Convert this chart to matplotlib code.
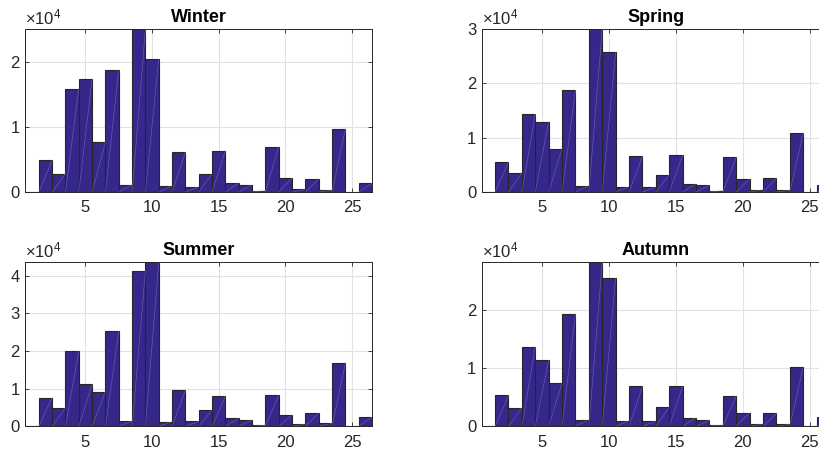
import matplotlib
matplotlib.use('Agg')
import matplotlib.pyplot as plt
import numpy as np
from matplotlib.ticker import FuncFormatter

plt.rcParams['font.family'] = ['Liberation Sans', 'DejaVu Sans']
plt.rcParams['mathtext.fontset'] = 'custom'
plt.rcParams['mathtext.rm'] = 'Liberation Sans'
plt.rcParams['mathtext.it'] = 'Liberation Sans'

# bin index 1..26
bins = np.arange(1, 27)

winter = [0, 4850, 2810, 15870, 17350, 7650, 18780, 1120, 25000, 20460,
          970, 6070, 800, 2810, 6330, 1380, 1120, 200, 6940, 2140,
          410, 1990, 260, 9690, 0, 1330]
spring = [0, 5520, 3500, 14290, 12940, 7980, 18710, 1170, 30000, 25770,
          980, 6560, 920, 3190, 6750, 1530, 1290, 250, 6380, 2390,
          430, 2520, 310, 10800, 0, 1290]
summer = [0, 7610, 4960, 20000, 11150, 9200, 25220, 1420, 41240, 43540,
          1240, 9560, 1300, 4340, 7960, 2120, 1680, 270, 8230, 3010,
          620, 3540, 800, 16730, 0, 2390]
autumn = [0, 5330, 3150, 13640, 11350, 7450, 19370, 1150, 28200, 25500,
          970, 6880, 900, 3270, 6880, 1490, 1030, 230, 5270, 2350,
          400, 2230, 340, 10200, 0, 1550]

seasons = ['Winter', 'Spring', 'Summer', 'Autumn']
series = [winter, spring, summer, autumn]

W, H = 820, 454
fig = plt.figure(figsize=(W / 100, H / 100), dpi=100)

# axes boxes in pixels: left, top, right, bottom
boxes = [(25.5, 29, 372, 192),
         (481.7, 29, 830, 192),
         (25.5, 262.3, 372, 426.3),
         (481.7, 262.3, 830, 426.3)]

face = '#35288a'
edge = '#262626'

for name, vals, (l, t, r, b) in zip(seasons, series, boxes):
    ax = fig.add_axes([l / W, (H - b) / H, (r - l) / W, (b - t) / H])
    vals = np.array(vals, dtype=float)
    ax.bar(bins, vals, width=1.0, color=face, edgecolor=edge,
           linewidth=0.8, zorder=3)
    # faint diagonal seam inside each bar
    for x, v in zip(bins, vals):
        if v > 0:
            ax.plot([x - 0.5, x + 0.5], [0, v], color='#8f8bd0',
                    lw=0.5, alpha=0.5, zorder=4)
    ax.set_xlim(0.5, 26.5)
    ax.set_ylim(0, vals.max())
    ax.set_xticks([5, 10, 15, 20, 25])
    ymax = int(vals.max() // 10000)
    ax.set_yticks(np.arange(0, ymax + 1) * 10000)
    ax.yaxis.set_major_formatter(FuncFormatter(lambda v, p: '%d' % round(v / 1e4)))
    ax.grid(True, color='#e1e1e1', linewidth=0.8, zorder=0)
    ax.set_axisbelow(True)
    ax.tick_params(direction='in', length=3, width=0.6, colors=edge,
                   labelsize=12, top=True, right=True)
    ax.tick_params(axis='x', pad=6)
    ax.tick_params(axis='y', pad=4)
    for s in ax.spines.values():
        s.set_color(edge)
        s.set_linewidth(0.7)
    ax.set_title(name, fontsize=13, fontweight='bold', pad=5)
    ax.text(0.0, 1.01, r'$\times 10^{4}$', transform=ax.transAxes,
            ha='left', va='bottom', fontsize=12, color=edge)

fig.savefig('out.png', dpi=100)
